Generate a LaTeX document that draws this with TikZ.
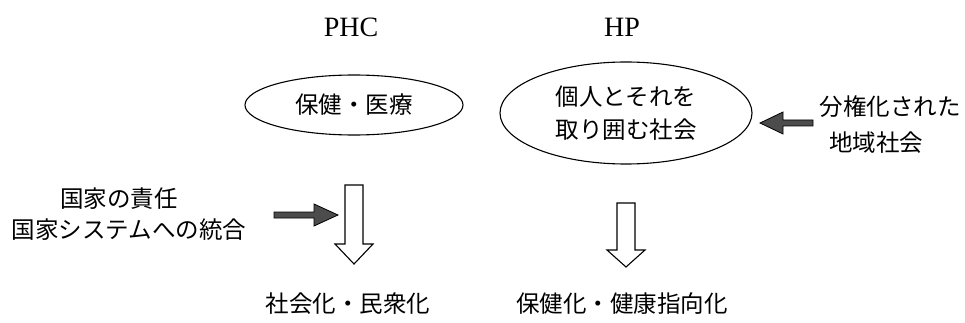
\documentclass[tikz,border=0pt]{standalone}
\usepackage{fontspec}
\setmainfont{Liberation Serif}
\newfontfamily\cjk{Noto Sans CJK JP}
\usetikzlibrary{shapes.geometric}
\tikzset{
  title/.style={font=\fontsize{28}{30}\selectfont, inner sep=0pt},
  jtext/.style={font=\cjk\fontsize{23.5}{33}\selectfont, inner sep=0pt, align=center},
  oval/.style={draw, ellipse, line width=1.1pt, inner sep=0pt, font=\cjk\fontsize{23.5}{33}\selectfont, align=center},
  fatarrow/.style={draw=black, fill=black!70, line width=0.8pt, line join=miter},
  hollowarrow/.style={draw=black, fill=white, line width=1.1pt, line join=miter}
}
\begin{document}
\begin{tikzpicture}[x=1pt,y=-1pt]
\useasboundingbox (0,0) rectangle (965,323);
% titles
\node[title] (phc) at (351,27) {PHC};
\node[title] (hp) at (622,27) {HP};
% ellipses
\node[oval, minimum width=218pt, minimum height=60pt] (e1) at (354,105) {保健・医療};
\node[oval, minimum width=252pt, minimum height=102pt] (e2) at (626,113) {個人とそれを\\取り囲む社会};
% right text
\node[jtext] (r1) at (890,107) {分権化された};
\node[jtext] (r2) at (876,143) {地域社会};
% left text
\node[jtext] (l1) at (119,199) {国家の責任};
\node[jtext] (l2) at (129,230) {国家システムへの統合};
% bottom text
\node[jtext] (b1) at (348,304) {社会化・民衆化};
\node[jtext] (b2) at (622,304) {保健化・健康指向化};
% filled arrows
\coordinate (fa1) at (338,215);
\coordinate (fa2) at (760,123);
\filldraw[fatarrow] (fa1) -- ++(-24,-11) -- ++(0,8) -- ++(-40,0) -- ++(0,6) -- ++(40,0) -- ++(0,8) -- cycle;
\filldraw[fatarrow] (fa2) -- ++(23,-11) -- ++(0,8) -- ++(30,0) -- ++(0,6) -- ++(-30,0) -- ++(0,8) -- cycle;
% hollow arrows
\coordinate (ha1) at (354,264);
\coordinate (ha2) at (626,267);
\filldraw[hollowarrow] (ha1) -- ++(-19,-20) -- ++(10,0) -- ++(0,-59) -- ++(18,0) -- ++(0,59) -- ++(10,0) -- cycle;
\filldraw[hollowarrow] (ha2) -- ++(-19,-17) -- ++(10,0) -- ++(0,-47) -- ++(18,0) -- ++(0,47) -- ++(10,0) -- cycle;
\end{tikzpicture}
\end{document}
